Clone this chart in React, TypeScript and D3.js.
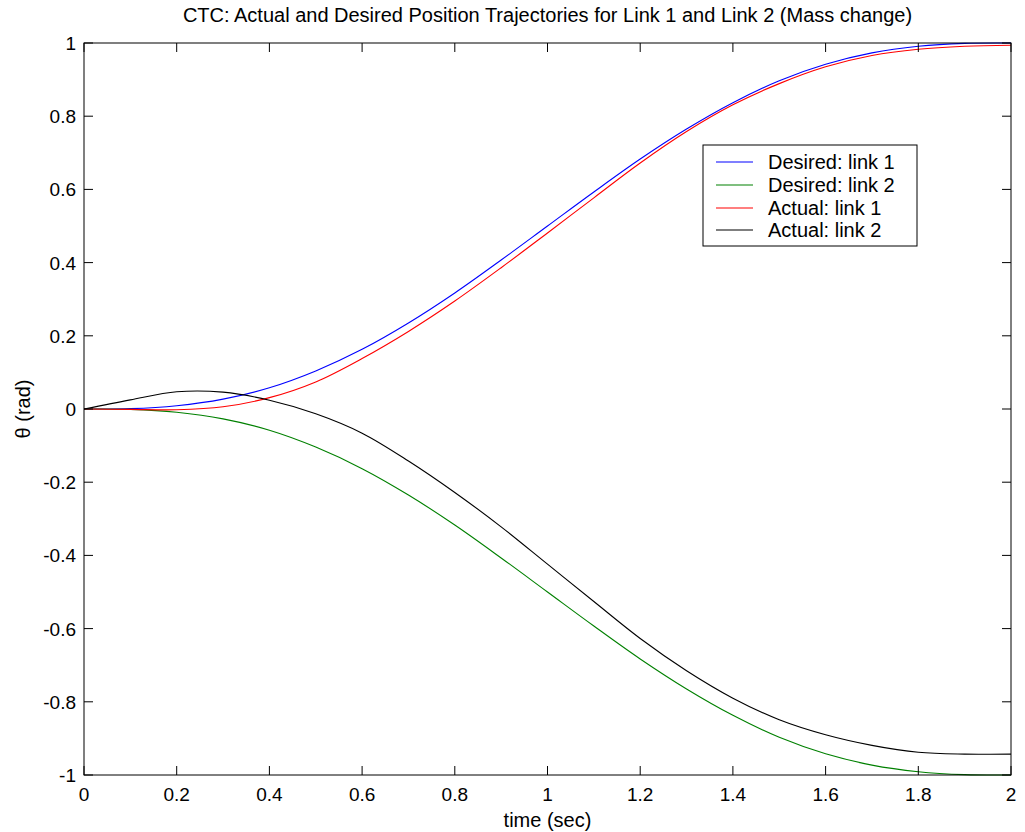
import React from "react";
import * as d3 from "d3";

const time = [0, 0.1, 0.2, 0.3, 0.4, 0.5, 0.6, 0.7, 0.8, 0.9, 1.0, 1.1, 1.2, 1.3, 1.4, 1.5, 1.6, 1.7, 1.8, 1.9, 2.0];
const desired1 = [0, 0.001, 0.009, 0.027, 0.058, 0.104, 0.163, 0.235, 0.317, 0.407, 0.5, 0.593, 0.683, 0.765, 0.837, 0.897, 0.942, 0.973, 0.991, 0.999, 1.0];
const desired2 = [0, -0.001, -0.009, -0.027, -0.058, -0.104, -0.163, -0.235, -0.317, -0.407, -0.5, -0.593, -0.683, -0.765, -0.837, -0.897, -0.942, -0.973, -0.991, -0.999, -1.0];
const actual1 = [0, -0.001, -0.002, 0.006, 0.031, 0.074, 0.138, 0.212, 0.295, 0.386, 0.481, 0.577, 0.672, 0.758, 0.831, 0.889, 0.935, 0.966, 0.983, 0.991, 0.994];
const actual2 = [0, 0.025, 0.047, 0.046, 0.024, -0.013, -0.066, -0.142, -0.228, -0.322, -0.424, -0.526, -0.627, -0.715, -0.79, -0.849, -0.89, -0.919, -0.938, -0.943, -0.943];

const xTicks = [0, 0.2, 0.4, 0.6, 0.8, 1, 1.2, 1.4, 1.6, 1.8, 2];
const yTicks = [-1, -0.8, -0.6, -0.4, -0.2, 0, 0.2, 0.4, 0.6, 0.8, 1];

const seriesNames = ["Desired: link 1", "Desired: link 2", "Actual: link 1", "Actual: link 2"];
const seriesColors = ["#0000ff", "#008000", "#ff0000", "#000000"];
const seriesData = [desired1, desired2, actual1, actual2];

const title = "CTC: Actual and Desired Position Trajectories for Link 1 and Link 2 (Mass change)";
const xLabel = "time (sec)";
const yLabel = "\u03b8 (rad)";

const FONT = "'Liberation Sans', Arial, Helvetica, sans-serif";

export default function App() {
  const W = 1025, H = 832;
  const L = 84, R = 1011, T = 43, B = 775;
  const x = d3.scaleLinear().domain([0, 2]).range([L, R]);
  const y = d3.scaleLinear().domain([-1, 1]).range([B, T]);
  const line = d3.line<number>()
    .x((_, i) => x(time[i]))
    .y((d) => y(d))
    .curve(d3.curveCatmullRom.alpha(0.5));
  const fmt = (v: number) => (v === 0 ? "0" : String(+v.toFixed(1)));
  const tl = 9;

  const legX = 703, legY = 145, legW = 214, legH = 101;
  const rowY = [162, 185, 208, 230];

  return (
    <svg width={W} height={H} style={{ position: "absolute", left: 0, top: 0, background: "#fff" }} fontFamily={FONT}>
      <rect x={0} y={0} width={W} height={H} fill="#fff" />
      {seriesData.map((s, i) => (
        <path key={i} d={line(s) || ""} fill="none" stroke={seriesColors[i]} strokeWidth={1.1} />
      ))}
      <rect x={L} y={T} width={R - L} height={B - T} fill="none" stroke="#000" strokeWidth={1} />
      {xTicks.map((t) => (
        <g key={"x" + t}>
          <line x1={x(t)} x2={x(t)} y1={B} y2={B - tl} stroke="#000" />
          <line x1={x(t)} x2={x(t)} y1={T} y2={T + tl} stroke="#000" />
          <text x={x(t)} y={801} textAnchor="middle" fontSize={19}>{fmt(t)}</text>
        </g>
      ))}
      {yTicks.map((t) => (
        <g key={"y" + t}>
          <line x1={L} x2={L + tl} y1={y(t)} y2={y(t)} stroke="#000" />
          <line x1={R} x2={R - tl} y1={y(t)} y2={y(t)} stroke="#000" />
          <text x={76} y={y(t) + 7} textAnchor="end" fontSize={19}>{fmt(t)}</text>
        </g>
      ))}
      <text x={(L + R) / 2} y={22} textAnchor="middle" fontSize={20}>{title}</text>
      <text x={(L + R) / 2} y={827} textAnchor="middle" fontSize={20}>{xLabel}</text>
      <text transform={`translate(30, ${(T + B) / 2}) rotate(-90)`} textAnchor="middle" fontSize={20}>{yLabel}</text>
      <rect x={legX} y={legY} width={legW} height={legH} fill="#fff" stroke="#000" strokeWidth={1} />
      {seriesNames.map((n, i) => (
        <g key={n}>
          <line x1={716} x2={753} y1={rowY[i]} y2={rowY[i]} stroke={seriesColors[i]} strokeWidth={1.1} />
          <text x={768} y={rowY[i] + 7} fontSize={20}>{n}</text>
        </g>
      ))}
    </svg>
  );
}
